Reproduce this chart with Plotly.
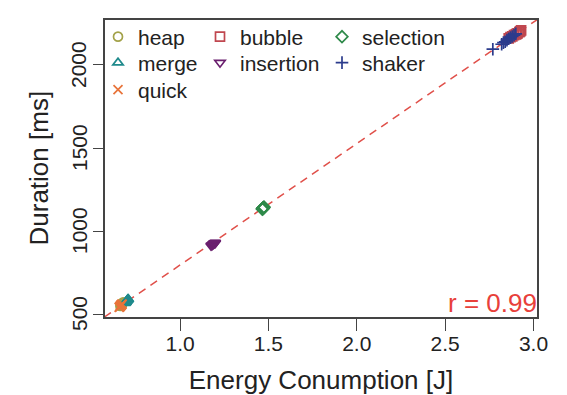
import numpy as np
import plotly.graph_objects as go

# ---- data ----
heap_x = [0.665, 0.672, 0.668, 0.675, 0.670, 0.678, 0.662, 0.671, 0.669, 0.674]
heap_y = [552, 560, 556, 565, 558, 570, 549, 561, 555, 563]
merge_x = [0.690, 0.698, 0.702, 0.695, 0.705, 0.700, 0.693, 0.708, 0.697, 0.703]
merge_y = [565, 578, 585, 572, 590, 580, 570, 588, 575, 583]
quick_x = [0.655, 0.662, 0.668, 0.660, 0.672, 0.665, 0.658, 0.670, 0.663, 0.667]
quick_y = [540, 548, 556, 545, 560, 552, 543, 558, 550, 554]
bubble_x = [2.86, 2.88, 2.90, 2.91, 2.92, 2.93, 2.89, 2.87, 2.905, 2.925]
bubble_y = [2160, 2172, 2185, 2190, 2198, 2208, 2180, 2168, 2188, 2202]
insertion_x = [1.175, 1.180, 1.185, 1.190, 1.195, 1.200, 1.188, 1.182, 1.198, 1.192]
insertion_y = [912, 915, 920, 924, 928, 930, 922, 917, 927, 925]
selection_x = [1.465, 1.468, 1.470, 1.472, 1.475, 1.470, 1.467, 1.473, 1.471, 1.469]
selection_y = [1132, 1135, 1138, 1140, 1144, 1139, 1134, 1142, 1137, 1136]
shaker_x = [2.77, 2.82, 2.83, 2.84, 2.85, 2.86, 2.87, 2.88, 2.89, 2.90]
shaker_y = [2095, 2125, 2135, 2140, 2150, 2158, 2165, 2172, 2180, 2188]

r_label = "r = 0.99"
x_title = "Energy Conumption [J]"
y_title = "Duration [ms]"
x_ticks = [1.0, 1.5, 2.0, 2.5, 3.0]
y_ticks = [500, 1000, 1500, 2000]

# name, x, y, symbol, colour, legend column, legend row
series = [
    ("heap", heap_x, heap_y, "circle-open", "#a3a24a", 0, 0),
    ("merge", merge_x, merge_y, "triangle-up-open", "#1f8a8c", 0, 1),
    ("quick", quick_x, quick_y, "x-thin-open", "#e8743a", 0, 2),
    ("bubble", bubble_x, bubble_y, "square-open", "#c0474f", 1, 0),
    ("insertion", insertion_x, insertion_y, "triangle-down-open", "#6a1f6e", 1, 1),
    ("selection", selection_x, selection_y, "diamond-open", "#2f8a4a", 2, 0),
    ("shaker", shaker_x, shaker_y, "cross-thin-open", "#2b3b8c", 2, 1),
]
draw_order = ["heap", "merge", "bubble", "insertion", "selection", "shaker", "quick"]

FONT = "Liberation Sans, Arial, sans-serif"
W, H = 567, 395
ML, MR, MT, MB = 105, 30, 20, 78
PW, PH = W - ML - MR, H - MT - MB
col_sym_px = [117, 219, 341]   # legend symbol centres (px)
row_px = [37, 63, 90]          # legend row centres (px)

fig = go.Figure()

# regression line from all data
all_x = np.concatenate([np.array(s[1]) for s in series])
all_y = np.concatenate([np.array(s[2]) for s in series])
slope, intercept = np.polyfit(all_x, all_y, 1)
xr = [0.575, 3.02]
yr = [482, 2271]
lx = np.array([xr[0] - 0.2, xr[1] + 0.2])
fig.add_trace(go.Scatter(x=lx, y=slope * lx + intercept, mode="lines",
                         line=dict(color="#e0504a", width=1.5, dash="8px,6px"),
                         showlegend=False, hoverinfo="skip"))

lookup = {s[0]: s for s in series}
legends = {}
for i, name in enumerate(draw_order):
    n, xs, ys, sym, col, c, r = lookup[name]
    lg = "legend" if i == 0 else f"legend{i + 1}"
    fig.add_trace(go.Scatter(
        x=xs, y=ys, mode="markers", name=n, legend=lg,
        marker=dict(symbol=sym, size=9, color=col, line=dict(width=1.7, color=col)),
    ))
    legends[lg] = dict(
        x=(col_sym_px[c] - 19 - ML) / PW, y=(MT + PH - row_px[r]) / PH,
        xanchor="left", yanchor="middle", orientation="v",
        bgcolor="rgba(0,0,0,0)", borderwidth=0,
        font=dict(family=FONT, size=21, color="#222222"),
    )

fig.add_annotation(text=r_label, xref="paper", yref="paper", x=1.0, y=0.0,
                   xanchor="right", yanchor="bottom", showarrow=False,
                   font=dict(family=FONT, size=26, color="#e8403a"),
                   xshift=2, yshift=-3)
# y axis title placed as text to the left of the tick labels
fig.add_annotation(text=y_title, xref="paper", yref="paper",
                   x=(38 - ML) / PW, y=0.5, textangle=-90,
                   xanchor="center", yanchor="middle", showarrow=False,
                   font=dict(family=FONT, size=26, color="#222222"))
# y tick labels (rotated, R style) placed at the axis values
for v in y_ticks:
    fig.add_annotation(text=str(v), xref="paper", yref="y",
                       x=(79 - ML) / PW, y=v, textangle=-90,
                       xanchor="center", yanchor="middle", showarrow=False,
                       font=dict(family=FONT, size=21, color="#222222"))

axis_common = dict(showline=True, mirror=True, linecolor="#444444", linewidth=1.5,
                   ticks="outside", tickwidth=1.3, tickcolor="#444444",
                   showgrid=False, zeroline=False, automargin=False,
                   tickfont=dict(family=FONT, size=21, color="#222222"))
fig.update_xaxes(range=xr, tickvals=x_ticks, ticktext=[f"{v:.1f}" for v in x_ticks],
                 ticklen=12, ticklabelstandoff=-5,
                 title=dict(text=x_title, font=dict(family=FONT, size=26, color="#222222"),
                            standoff=22),
                 **axis_common)
fig.update_yaxes(range=yr, tickvals=y_ticks, ticklen=10, showticklabels=False,
                 **axis_common)

fig.update_layout(
    width=W, height=H,
    margin=dict(l=ML, r=MR, t=MT, b=MB),
    paper_bgcolor="white", plot_bgcolor="white",
    showlegend=True,
    **legends,
)
fig.write_html("out.html", post_script="document.body.style.margin='0px';",
               config={"displayModeBar": False})
